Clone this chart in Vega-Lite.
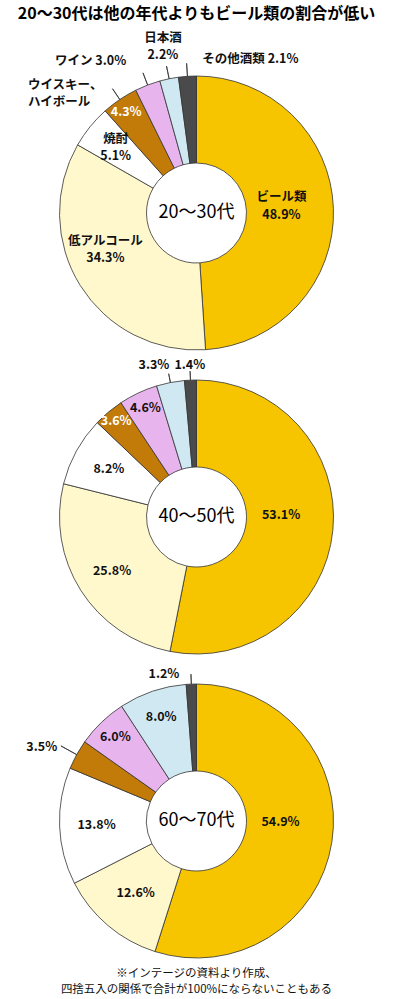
{
  "$schema": "https://vega.github.io/schema/vega-lite/v6.json",
  "padding": {"top": 5, "left": 0, "right": 0, "bottom": 0},
  "background": "white",
  "title": {"text": "20～30代は他の年代よりもビール類の割合が低い", "fontSize": 16, "fontWeight": "bold", "font": "Noto Sans CJK JP", "anchor": "middle", "offset": 7, "color": "#000000"},
  "spacing": 0,
  "bounds": "flush",
  "resolve": {"scale": {"theta": "independent"}},
  "config": {"view": {"stroke": null}, "font": "Noto Sans CJK JP"},
  "data": {"values": [
    {"age": "20～30代", "n": 1, "kind": "ビール類", "value": 48.9, "label": "ビール類\n48.9%", "extra": ""},
    {"age": "20～30代", "n": 2, "kind": "低アルコール", "value": 34.3, "label": "低アルコール\n34.3%", "extra": ""},
    {"age": "20～30代", "n": 3, "kind": "焼酎", "value": 5.1, "label": "焼酎\n5.1%", "extra": ""},
    {"age": "20～30代", "n": 4, "kind": "ウイスキー、ハイボール", "value": 4.3, "label": "4.3%", "extra": "ウイスキー、\nハイボール"},
    {"age": "20～30代", "n": 5, "kind": "ワイン", "value": 3.0, "label": "ワイン 3.0%", "extra": ""},
    {"age": "20～30代", "n": 6, "kind": "日本酒", "value": 2.2, "label": "日本酒\n2.2%", "extra": ""},
    {"age": "20～30代", "n": 7, "kind": "その他酒類", "value": 2.1, "label": "その他酒類 2.1%", "extra": ""},
    {"age": "40～50代", "n": 1, "kind": "ビール類", "value": 53.1, "label": "53.1%", "extra": ""},
    {"age": "40～50代", "n": 2, "kind": "低アルコール", "value": 25.8, "label": "25.8%", "extra": ""},
    {"age": "40～50代", "n": 3, "kind": "焼酎", "value": 8.2, "label": "8.2%", "extra": ""},
    {"age": "40～50代", "n": 4, "kind": "ウイスキー、ハイボール", "value": 3.6, "label": "3.6%", "extra": ""},
    {"age": "40～50代", "n": 5, "kind": "ワイン", "value": 4.6, "label": "4.6%", "extra": ""},
    {"age": "40～50代", "n": 6, "kind": "日本酒", "value": 3.3, "label": "3.3%", "extra": ""},
    {"age": "40～50代", "n": 7, "kind": "その他酒類", "value": 1.4, "label": "1.4%", "extra": ""},
    {"age": "60～70代", "n": 1, "kind": "ビール類", "value": 54.9, "label": "54.9%", "extra": ""},
    {"age": "60～70代", "n": 2, "kind": "低アルコール", "value": 12.6, "label": "12.6%", "extra": ""},
    {"age": "60～70代", "n": 3, "kind": "焼酎", "value": 13.8, "label": "13.8%", "extra": ""},
    {"age": "60～70代", "n": 4, "kind": "ウイスキー、ハイボール", "value": 3.5, "label": "3.5%", "extra": ""},
    {"age": "60～70代", "n": 5, "kind": "ワイン", "value": 6.0, "label": "6.0%", "extra": ""},
    {"age": "60～70代", "n": 6, "kind": "日本酒", "value": 8.0, "label": "8.0%", "extra": ""},
    {"age": "60～70代", "n": 7, "kind": "その他酒類", "value": 1.2, "label": "1.2%", "extra": ""}
  ]},
  "vconcat": [
    {
      "width": 393, "height": 304,
      "transform": [{"filter": {"field": "age", "equal": "20～30代"}}],
      "encoding": {
        "theta": {"field": "value", "type": "quantitative", "stack": true},
        "order": {"field": "n", "type": "quantitative"}
      },
      "layer": [
        {"mark": {"type": "arc", "innerRadius": 50, "outerRadius": 137, "stroke": "#333333", "strokeWidth": 0.8},
         "encoding": {"color": {"field": "kind", "type": "nominal", "legend": null, "scale": {"domain": ["ビール類", "低アルコール", "焼酎", "ウイスキー、ハイボール", "ワイン", "日本酒", "その他酒類"], "range": ["#F6C500", "#FFF8CC", "#FFFFFF", "#C27A08", "#E8B4EE", "#CFE8F2", "#4A4A4A"]}}}},
        {"mark": {"type": "arc", "innerRadius": 137, "outerRadius": 150, "padAngle": 1.2, "fillOpacity": 0, "stroke": "#333333", "strokeWidth": 0.8},
         "encoding": {"strokeOpacity": {"condition": {"test": "datum.n >= 4", "value": 1}, "value": 0}}},
        {"mark": {"type": "text", "radius": 0, "fontSize": 18, "color": "#000000"},
         "encoding": {"text": {"condition": {"test": "datum.n === 1", "field": "age", "type": "nominal"}, "value": ""}}},
        {"mark": {"type": "text", "radius": 85, "dy": -13, "fontSize": 12.5, "fontWeight": "bold", "lineBreak": "\n", "lineHeight": 18, "color": "#111111"},
         "encoding": {"text": {"condition": {"test": "datum.kind === 'ビール類'", "field": "label", "type": "nominal"}, "value": ""}}},
        {"mark": {"type": "text", "radius": 98, "dx": -8, "dy": -23.5, "fontSize": 12.5, "fontWeight": "bold", "lineBreak": "\n", "lineHeight": 17, "color": "#111111"},
         "encoding": {"text": {"condition": {"test": "datum.kind === '低アルコール'", "field": "label", "type": "nominal"}, "value": ""}}},
        {"mark": {"type": "text", "radius": 104, "dy": -9, "fontSize": 12.5, "fontWeight": "bold", "lineBreak": "\n", "lineHeight": 17, "color": "#111111"},
         "encoding": {"text": {"condition": {"test": "datum.kind === '焼酎'", "field": "label", "type": "nominal"}, "value": ""}}},
        {"mark": {"type": "text", "radius": 122, "dx": -2, "fontSize": 12.5, "fontWeight": "bold", "color": "#FFFFFF"},
         "encoding": {"text": {"condition": {"test": "datum.kind === 'ウイスキー、ハイボール'", "field": "label", "type": "nominal"}, "value": ""}}},
        {"mark": {"type": "text", "radius": 60, "dx": -135, "dy": -78, "align": "left", "fontSize": 12.5, "fontWeight": "bold", "lineBreak": "\n", "lineHeight": 17, "color": "#111111"},
         "encoding": {"text": {"field": "extra", "type": "nominal"}}},
        {"mark": {"type": "text", "radius": 155, "dx": -15, "dy": -7, "align": "right", "fontSize": 12.5, "fontWeight": "bold", "color": "#111111"},
         "encoding": {"text": {"condition": {"test": "datum.kind === 'ワイン'", "field": "label", "type": "nominal"}, "value": ""}}},
        {"mark": {"type": "text", "radius": 168, "dy": -10.5, "fontSize": 12.5, "fontWeight": "bold", "lineBreak": "\n", "lineHeight": 17, "color": "#111111"},
         "encoding": {"text": {"condition": {"test": "datum.kind === '日本酒'", "field": "label", "type": "nominal"}, "value": ""}}},
        {"mark": {"type": "text", "radius": 154, "dx": 16, "align": "left", "fontSize": 12.5, "fontWeight": "bold", "color": "#111111"},
         "encoding": {"text": {"condition": {"test": "datum.kind === 'その他酒類'", "field": "label", "type": "nominal"}, "value": ""}}}
      ]
    },
    {
      "width": 393, "height": 304,
      "transform": [{"filter": {"field": "age", "equal": "40～50代"}}],
      "encoding": {
        "theta": {"field": "value", "type": "quantitative", "stack": true},
        "order": {"field": "n", "type": "quantitative"}
      },
      "layer": [
        {"mark": {"type": "arc", "innerRadius": 50, "outerRadius": 137, "stroke": "#333333", "strokeWidth": 0.8},
         "encoding": {"color": {"field": "kind", "type": "nominal", "legend": null, "scale": {"domain": ["ビール類", "低アルコール", "焼酎", "ウイスキー、ハイボール", "ワイン", "日本酒", "その他酒類"], "range": ["#F6C500", "#FFF8CC", "#FFFFFF", "#C27A08", "#E8B4EE", "#CFE8F2", "#4A4A4A"]}}}},
        {"mark": {"type": "arc", "innerRadius": 137, "outerRadius": 146, "padAngle": 1.2, "fillOpacity": 0, "stroke": "#333333", "strokeWidth": 0.8},
         "encoding": {"strokeOpacity": {"condition": {"test": "datum.n >= 6", "value": 1}, "value": 0}}},
        {"mark": {"type": "text", "radius": 0, "fontSize": 18, "color": "#000000"},
         "encoding": {"text": {"condition": {"test": "datum.n === 1", "field": "age", "type": "nominal"}, "value": ""}}},
        {"mark": {"type": "text", "radius": 85, "dy": -10, "fontSize": 12.5, "fontWeight": "bold", "color": "#111111"},
         "encoding": {"text": {"condition": {"test": "datum.kind === 'ビール類'", "field": "label", "type": "nominal"}, "value": ""}}},
        {"mark": {"type": "text", "radius": 100, "fontSize": 12.5, "fontWeight": "bold", "color": "#111111"},
         "encoding": {"text": {"condition": {"test": "datum.kind === '低アルコール' || datum.kind === '焼酎'", "field": "label", "type": "nominal"}, "value": ""}}},
        {"mark": {"type": "text", "radius": 125, "fontSize": 12.5, "fontWeight": "bold", "color": "#FFFFFF"},
         "encoding": {"text": {"condition": {"test": "datum.kind === 'ウイスキー、ハイボール'", "field": "label", "type": "nominal"}, "value": ""}}},
        {"mark": {"type": "text", "radius": 120, "fontSize": 12.5, "fontWeight": "bold", "color": "#111111"},
         "encoding": {"text": {"condition": {"test": "datum.kind === 'ワイン'", "field": "label", "type": "nominal"}, "value": ""}}},
        {"mark": {"type": "text", "radius": 155, "dx": -13, "fontSize": 12.5, "fontWeight": "bold", "color": "#111111"},
         "encoding": {"text": {"condition": {"test": "datum.kind === '日本酒'", "field": "label", "type": "nominal"}, "value": ""}}},
        {"mark": {"type": "text", "radius": 152, "fontSize": 12.5, "fontWeight": "bold", "color": "#111111"},
         "encoding": {"text": {"condition": {"test": "datum.kind === 'その他酒類'", "field": "label", "type": "nominal"}, "value": ""}}}
      ]
    },
    {
      "width": 393, "height": 304,
      "transform": [{"filter": {"field": "age", "equal": "60～70代"}}],
      "encoding": {
        "theta": {"field": "value", "type": "quantitative", "stack": true},
        "order": {"field": "n", "type": "quantitative"}
      },
      "layer": [
        {"mark": {"type": "arc", "innerRadius": 50, "outerRadius": 137, "stroke": "#333333", "strokeWidth": 0.8},
         "encoding": {"color": {"field": "kind", "type": "nominal", "legend": null, "scale": {"domain": ["ビール類", "低アルコール", "焼酎", "ウイスキー、ハイボール", "ワイン", "日本酒", "その他酒類"], "range": ["#F6C500", "#FFF8CC", "#FFFFFF", "#C27A08", "#E8B4EE", "#CFE8F2", "#4A4A4A"]}}}},
        {"mark": {"type": "arc", "innerRadius": 137, "outerRadius": 155, "padAngle": 1.2, "fillOpacity": 0, "stroke": "#333333", "strokeWidth": 0.8},
         "encoding": {"strokeOpacity": {"condition": {"test": "datum.n === 4", "value": 1}, "value": 0}}},
        {"mark": {"type": "arc", "innerRadius": 137, "outerRadius": 147, "padAngle": 1.2, "fillOpacity": 0, "stroke": "#333333", "strokeWidth": 0.8},
         "encoding": {"strokeOpacity": {"condition": {"test": "datum.n === 7", "value": 1}, "value": 0}}},
        {"mark": {"type": "text", "radius": 0, "fontSize": 18, "color": "#000000"},
         "encoding": {"text": {"condition": {"test": "datum.n === 1", "field": "age", "type": "nominal"}, "value": ""}}},
        {"mark": {"type": "text", "radius": 85, "dy": -12, "fontSize": 12.5, "fontWeight": "bold", "color": "#111111"},
         "encoding": {"text": {"condition": {"test": "datum.kind === 'ビール類'", "field": "label", "type": "nominal"}, "value": ""}}},
        {"mark": {"type": "text", "radius": 94, "fontSize": 12.5, "fontWeight": "bold", "color": "#111111"},
         "encoding": {"text": {"condition": {"test": "datum.kind === '低アルコール'", "field": "label", "type": "nominal"}, "value": ""}}},
        {"mark": {"type": "text", "radius": 100, "fontSize": 12.5, "fontWeight": "bold", "color": "#111111"},
         "encoding": {"text": {"condition": {"test": "datum.kind === '焼酎'", "field": "label", "type": "nominal"}, "value": ""}}},
        {"mark": {"type": "text", "radius": 170, "dx": -6, "dy": 8, "fontSize": 12.5, "fontWeight": "bold", "color": "#111111"},
         "encoding": {"text": {"condition": {"test": "datum.kind === 'ウイスキー、ハイボール'", "field": "label", "type": "nominal"}, "value": ""}}},
        {"mark": {"type": "text", "radius": 117, "fontSize": 12.5, "fontWeight": "bold", "color": "#111111"},
         "encoding": {"text": {"condition": {"test": "datum.kind === 'ワイン'", "field": "label", "type": "nominal"}, "value": ""}}},
        {"mark": {"type": "text", "radius": 110, "fontSize": 12.5, "fontWeight": "bold", "color": "#111111"},
         "encoding": {"text": {"condition": {"test": "datum.kind === '日本酒'", "field": "label", "type": "nominal"}, "value": ""}}},
        {"mark": {"type": "text", "radius": 147, "dx": -27, "fontSize": 12.5, "fontWeight": "bold", "color": "#111111"},
         "encoding": {"text": {"condition": {"test": "datum.kind === 'その他酒類'", "field": "label", "type": "nominal"}, "value": ""}}}
      ]
    },
    {
      "width": 393, "height": 2,
      "data": {"values": [{"note": "※インテージの資料より作成、\n四捨五入の関係で合計が100%にならないこともある"}]},
      "mark": {"type": "text", "fontSize": 11.5, "lineBreak": "\n", "lineHeight": 16, "color": "#111111"},
      "encoding": {"text": {"field": "note", "type": "nominal"}}
    }
  ]
}
